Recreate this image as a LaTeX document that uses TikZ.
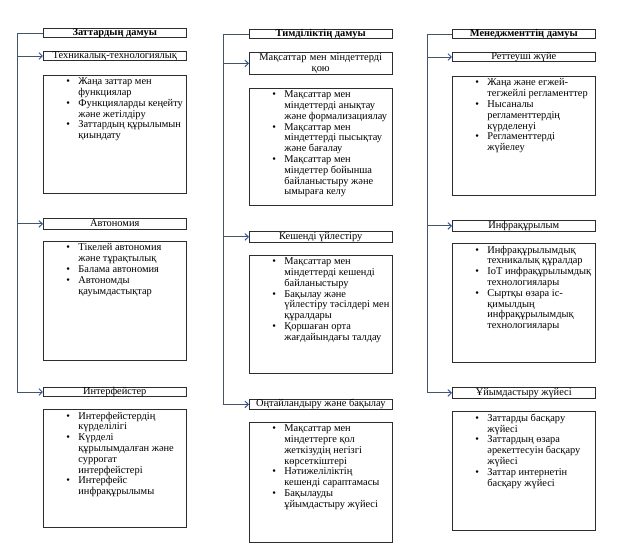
\documentclass[tikz,border=0pt]{standalone}
\usepackage{fontspec}
\setmainfont{Liberation Serif}
\usetikzlibrary{arrows.meta}
\definecolor{boxc}{RGB}{45,45,45}
\definecolor{linec}{RGB}{68,84,106}
\definecolor{arrc}{RGB}{47,85,151}
\newcommand{\fsz}{\fontsize{7.8}{8.1}\selectfont}
\newcommand{\bi}{\par\noindent\llap{\makebox[9pt][l]{\textbullet}}}
\newcommand{\blist}[2]{\begin{minipage}[t][#1][t]{107pt}\fsz\raggedright\leftskip=26.25pt\parindent=0pt\vspace*{1.8pt}#2\end{minipage}}
\tikzset{
  hdr/.style={draw=boxc, line width=0.6pt, anchor=north west, inner sep=0pt, minimum width=107pt, text height=5pt, text depth=1.6pt, font=\fsz\bfseries},
  subbox/.style={draw=boxc, line width=0.6pt, anchor=north west, inner sep=0pt, minimum width=107pt, text height=5pt, text depth=1.6pt, font=\fsz},
  subtwo/.style={draw=boxc, line width=0.6pt, anchor=north west, inner sep=0pt, minimum width=107pt, text width=107pt, align=center, font=\fsz},
  bbox/.style={draw=boxc, line width=0.6pt, anchor=north west, inner sep=0pt},
  conn/.style={draw=linec, line width=0.7pt},
  arr/.style={conn, -{Straight Barb[length=2.6pt,width=5pt,color=arrc]}}
}
\begin{document}
\begin{tikzpicture}[x=0.75pt,y=-0.75pt]
\useasboundingbox (0,0) rectangle (624,550);
% ---------- column 1 ----------
\node[hdr, minimum height=6.9pt] (h1) at (43,28) {Заттардың дамуы};
\node[subbox, minimum height=6.9pt] (s11) at (43,51) {Техникалық-технологиялық};
\node[bbox] (b11) at (43,75) {\blist{88.5pt}{%
\bi Жаңа заттар мен\\ функциялар
\bi Функцияларды кеңейту\\ және жетілдіру
\bi Заттардың құрылымын\\ қиындату}};
\node[subbox, minimum height=8.25pt] (s12) at (43,218) {Автономия};
\node[bbox] (b12) at (43,241) {\blist{89.25pt}{%
\bi Тікелей автономия\\ және тұрақтылық
\bi Балама автономия
\bi Автономды\\ қауымдастықтар}};
\node[subbox, minimum height=6.9pt] (s13) at (43,387) {Интерфейстер};
\node[bbox] (b13) at (43,409) {\blist{88.5pt}{%
\bi Интерфейстердің\\ күрделілігі
\bi Күрделі\\ құрылымдалған және\\ суррогат\\ интерфейстері
\bi Интерфейс\\ инфрақұрылымы}};
\coordinate (v1) at (17,0);
\draw[arr] (h1.west) -| (v1 |- s13.west) -- (s13.west);
\draw[arr] (v1 |- s11.west) -- (s11.west);
\draw[arr] (v1 |- s12.west) -- (s12.west);
% ---------- column 2 ----------
\node[hdr, minimum height=6.9pt] (h2) at (249,29) {Тимділіктің дамуы};
\node[subtwo, minimum height=16.5pt] (s21) at (249,52) {Мақсаттар мен міндеттерді\\ қою};
\node[bbox] (b21) at (249,88) {\blist{87.75pt}{%
\bi Мақсаттар мен\\ міндеттерді анықтау\\ және формализациялау
\bi Мақсаттар мен\\ міндеттерді пысықтау\\ және бағалау
\bi Мақсаттар мен\\ міндеттер бойынша\\ байланыстыру және\\ ымыраға келу}};
\node[subbox, minimum height=8.25pt] (s22) at (249,231) {Кешенді үйлестіру};
\node[bbox] (b22) at (249,255) {\blist{88.5pt}{%
\bi Мақсаттар мен\\ міндеттерді кешенді\\ байланыстыру
\bi Бақылау және\\ үйлестіру тәсілдері мен\\ құралдары
\bi Қоршаған орта\\ жағдайындағы талдау}};
\node[subbox, minimum height=7.5pt] (s23) at (249,399) {Оңтайландыру және бақылау};
\node[bbox] (b23) at (249,422) {\blist{90pt}{%
\bi Мақсаттар мен\\ міндеттерге қол\\ жеткізудің негізгі\\ көрсеткіштері
\bi Нәтижеліліктің\\ кешенді сараптамасы
\bi Бақылауды\\ ұйымдастыру жүйесі}};
\coordinate (v2) at (223,0);
\draw[arr] (h2.west) -| (v2 |- s23.west) -- (s23.west);
\draw[arr] (v2 |- s21.west) -- (s21.west);
\draw[arr] (v2 |- s22.west) -- (s22.west);
% ---------- column 3 ----------
\node[hdr, minimum height=6.9pt] (h3) at (452,29) {Менеджменттің дамуы};
\node[subbox, minimum height=6.9pt] (s31) at (452,52) {Реттеуші жүйе};
\node[bbox] (b31) at (452,76) {\blist{89.25pt}{%
\bi Жаңа және егжей-\\ тегжейлі регламенттер
\bi Нысаналы\\ регламенттердің\\ күрделенуі
\bi Регламенттерді\\ жүйелеу}};
\node[subbox, minimum height=8.25pt] (s32) at (452,220) {Инфрақұрылым};
\node[bbox] (b32) at (452,243) {\blist{89.25pt}{%
\bi Инфрақұрылымдық\\ техникалық құралдар
\bi IoT инфрақұрылымдық\\ технологиялары
\bi Сыртқы өзара іс-\\ қимылдың\\ инфрақұрылымдық\\ технологиялары}};
\node[subbox, minimum height=8.25pt] (s33) at (452,387) {Ұйымдастыру жүйесі};
\node[bbox] (b33) at (452,411) {\blist{89.25pt}{%
\bi Заттарды басқару\\ жүйесі
\bi Заттардың өзара\\ әрекеттесуін басқару\\ жүйесі
\bi Заттар интернетін\\ басқару жүйесі}};
\coordinate (v3) at (427,0);
\draw[arr] (h3.west) -| (v3 |- s33.west) -- (s33.west);
\draw[arr] (v3 |- s31.west) -- (s31.west);
\draw[arr] (v3 |- s32.west) -- (s32.west);
\end{tikzpicture}
\end{document}
